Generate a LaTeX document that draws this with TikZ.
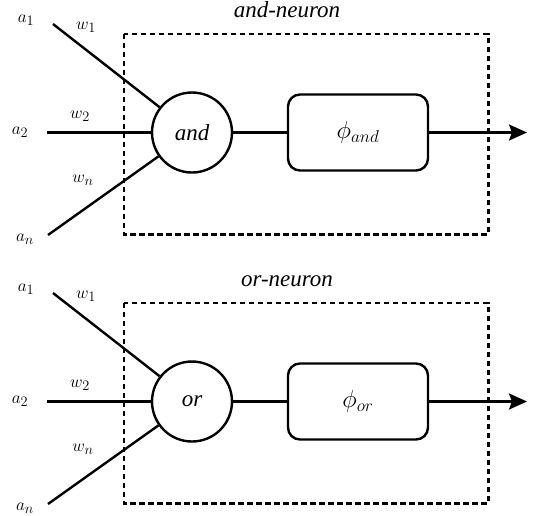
\documentclass[tikz,border=0pt]{standalone}
\usepackage[no-math]{fontspec}
\setmainfont{Liberation Serif}
\usetikzlibrary{arrows.meta}
\tikzset{
  wire/.style={line width=2.4pt},
  frame/.style={line width=2.6pt, dash pattern=on 5.5pt off 3.5pt},
  gate/.style={circle, draw, line width=2.4pt, minimum size=80pt, inner sep=0pt, font=\fontsize{23}{26}\selectfont\itshape},
  actbox/.style={rectangle, rounded corners=12pt, draw, line width=2.4pt, minimum width=140pt, minimum height=76pt, inner sep=0pt, font=\fontsize{27}{30}\selectfont},
  lbl/.style={inner sep=0pt, font=\fontsize{19}{22}\selectfont},
  ttl/.style={inner sep=0pt, anchor=base, font=\fontsize{23}{26}\selectfont\itshape},
  outarrow/.style={line width=2.4pt, -{Stealth[length=18pt, width=16pt, inset=3pt]}}
}
\begin{document}
\begin{tikzpicture}[x=1pt, y=-1pt]
\useasboundingbox (0,0) rectangle (537,515);
% ---- and-neuron ----
\begin{scope}
\node[ttl] (t1) at (287,17) {and-neuron};
\node[draw=none, inner sep=0pt, minimum width=364pt, minimum height=200pt] (f1) at (306,134) {};
\draw[frame] (f1.north west) rectangle (f1.south east);
\node[gate] (g1) at (192,132.5) {and};
\node[actbox] (p1) at (358,132.5) {$\phi_{and}$};
\coordinate (i1a) at (53,24);
\coordinate (i1b) at (47,132.5);
\coordinate (i1n) at (48,235);
\coordinate (o1) at (527,132.5);
\draw[wire] (i1a) -- (g1);
\draw[wire] (i1b) -- (g1.west);
\draw[wire] (i1n) -- (g1);
\draw[wire] (g1.east) -- (p1.west);
\draw[outarrow] (p1.east) -- (o1);
\node[lbl] (la1) at (26,20) {$a_1$};
\node[lbl] (lw1) at (86,27) {$w_1$};
\node[lbl] (lw2) at (80,116) {$w_2$};
\node[lbl] (la2) at (20,132) {$a_2$};
\node[lbl] (lwn) at (83,180) {$w_n$};
\node[lbl] (lan) at (25,239) {$a_n$};
\end{scope}
% ---- or-neuron ----
\begin{scope}[yshift=-269pt]
\node[ttl] (t2) at (287,17) {or-neuron};
\node[draw=none, inner sep=0pt, minimum width=364pt, minimum height=200pt] (f2) at (306,134) {};
\draw[frame] (f2.north west) rectangle (f2.south east);
\node[gate] (g2) at (192,132.5) {or};
\node[actbox] (p2) at (358,132.5) {$\phi_{or}$};
\coordinate (i2a) at (53,24);
\coordinate (i2b) at (47,132.5);
\coordinate (i2n) at (48,235);
\coordinate (o2) at (527,132.5);
\draw[wire] (i2a) -- (g2);
\draw[wire] (i2b) -- (g2.west);
\draw[wire] (i2n) -- (g2);
\draw[wire] (g2.east) -- (p2.west);
\draw[outarrow] (p2.east) -- (o2);
\node[lbl] (lb1) at (26,20) {$a_1$};
\node[lbl] (lv1) at (86,27) {$w_1$};
\node[lbl] (lv2) at (80,116) {$w_2$};
\node[lbl] (lb2) at (20,132) {$a_2$};
\node[lbl] (lvn) at (83,180) {$w_n$};
\node[lbl] (lbn) at (25,239) {$a_n$};
\end{scope}
\end{tikzpicture}
\end{document}
